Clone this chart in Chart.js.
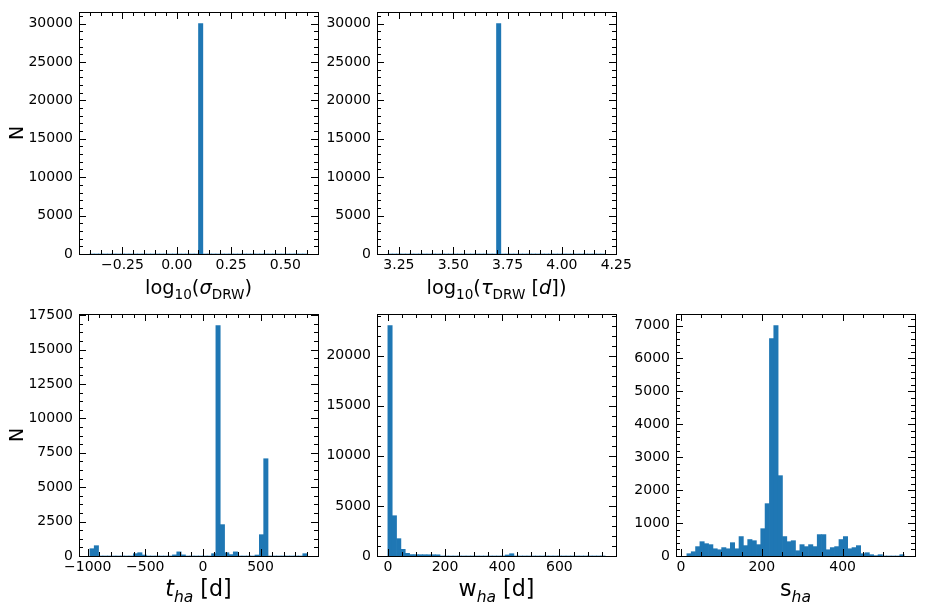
<!DOCTYPE html>
<html>
<head>
<meta charset="utf-8">
<script src="https://cdn.jsdelivr.net/npm/chart.js@4.4.0/dist/chart.umd.min.js"></script>
<style>
  html, body { margin: 0; padding: 0; background: #fff; }
  body { width: 933px; height: 608px; position: relative; overflow: hidden; }
  canvas { position: absolute; }
</style>
</head>
<body>
<canvas id="sigmaChart" width="334" height="304"></canvas>
<canvas id="tauChart" width="334" height="304"></canvas>
<canvas id="tChart" width="334" height="304"></canvas>
<canvas id="wChart" width="334" height="304"></canvas>
<canvas id="sChart" width="334" height="304"></canvas>
<script>
// histogram data (50 bins per panel)
var sigmaRange = [-0.4, 0.6];
var sigmaCounts = [0, 0, 0, 0, 0, 0, 0, 0, 0, 0, 0, 0, 0, 0, 0, 0, 0, 0, 0, 0, 0, 0, 0, 0, 0,
  30000, 0, 0, 0, 0, 0, 0, 0, 0, 0, 0, 0, 0, 0, 0, 0, 0, 0, 0, 0, 0, 0, 0, 0, 0];

var tauRange = [3.199, 4.199];
var tauCounts = [0, 0, 0, 0, 0, 0, 0, 0, 0, 0, 0, 0, 0, 0, 0, 0, 0, 0, 0, 0, 0, 0, 0, 0, 0,
  30000, 0, 0, 0, 0, 0, 0, 0, 0, 0, 0, 0, 0, 0, 0, 0, 0, 0, 0, 0, 0, 0, 0, 0, 0];

var tRange = [-981, 904];
var tCounts = [530, 750, 0, 0, 0, 0, 0, 0, 0, 0, 170, 240, 70, 0, 0, 0, 0, 0, 0, 80,
  300, 80, 0, 0, 0, 0, 0, 0, 170, 16750, 2280, 240, 100, 300, 0, 0, 0, 0, 70, 1550,
  7070, 0, 0, 0, 0, 0, 0, 0, 0, 170];

var wRange = [0, 760];
var wCounts = [23000, 4020, 1730, 665, 266, 140, 135, 130, 130, 125, 125, 120, 0, 0, 0, 0, 0, 0, 0, 0,
  0, 0, 0, 0, 0, 0, 0, 100, 230, 0, 0, 0, 0, 0, 0, 0, 0, 0, 0, 0,
  0, 0, 0, 0, 0, 0, 0, 0, 0, 3];

var sRange = [14.5, 552.3];
var sCounts = [70, 130, 285, 435, 375, 345, 220, 190, 255, 220,
  405, 220, 590, 315, 500, 465, 345, 830, 1590, 6600,
  7000, 2440, 590, 435, 465, 160, 345, 285, 345, 285,
  650, 650, 190, 255, 285, 500, 590, 220, 255, 315,
  70, 100, 40, 10, 40, 0, 0, 0, 0, 40];

// tick labels
var sigmaTicks = [-0.25, 0, 0.25, 0.5];
var tauTicks = [3.25, 3.5, 3.75, 4, 4.25];
var tTicks = [-1000, -500, 0, 500];
var wTicks = [0, 200, 400, 600];
var sTicks = [0, 200, 400];
var topCountTicks = [0, 5000, 10000, 15000, 20000, 25000, 30000];
var tCountTicks = [0, 2500, 5000, 7500, 10000, 12500, 15000, 17500];
var wCountTicks = [0, 5000, 10000, 15000, 20000];
var sCountTicks = [0, 1000, 2000, 3000, 4000, 5000, 6000, 7000];

var FONT = "'DejaVu Sans', sans-serif";
var BLUE = "#1f77b4";

function binPoints(range, counts) {
  var w = (range[1] - range[0]) / counts.length;
  return counts.map(function (c, i) {
    return { x: range[0] + w * (i + 0.5), y: c };
  });
}

function fmt(v, dec) {
  return v.toFixed(dec).replace("-", "\u2212");
}

// spines + inward major/minor ticks on all four sides
var frameTicks = {
  id: "frameTicks",
  afterDraw: function (chart) {
    var o = chart.options.plugins.frameTicks;
    var ctx = chart.ctx, a = chart.chartArea;
    var xs = chart.scales.x, ys = chart.scales.y;
    ctx.save();
    ctx.strokeStyle = "#000";
    ctx.lineWidth = 1;
    ctx.beginPath();
    function xt(v, len) {
      var p = Math.round(xs.getPixelForValue(v)) + 0.5;
      ctx.moveTo(p, a.bottom); ctx.lineTo(p, a.bottom - len);
      ctx.moveTo(p, a.top); ctx.lineTo(p, a.top + len);
    }
    function yt(v, len) {
      var p = Math.round(ys.getPixelForValue(v)) + 0.5;
      ctx.moveTo(a.left, p); ctx.lineTo(a.left + len, p);
      ctx.moveTo(a.right, p); ctx.lineTo(a.right - len, p);
    }
    var v;
    for (v = Math.ceil(xs.min / o.xMinor) * o.xMinor; v <= xs.max; v += o.xMinor) xt(v, 4);
    for (v = 0; v <= ys.max; v += o.yMinor) yt(v, 4);
    xs.ticks.forEach(function (t) { xt(t.value, 7); });
    ys.ticks.forEach(function (t) { yt(t.value, 7); });
    ctx.stroke();
    ctx.strokeRect(a.left + 0.5, a.top + 0.5, a.right - a.left, a.bottom - a.top);
    ctx.restore();
  }
};

// axis titles with mathtext-like sub/italic segments
var axisTitles = {
  id: "axisTitles",
  afterDraw: function (chart) {
    var o = chart.options.plugins.axisTitles;
    var ctx = chart.ctx, a = chart.chartArea;
    ctx.save();
    ctx.fillStyle = "#000";
    ctx.textBaseline = "alphabetic";
    ctx.textAlign = "left";
    var size = o.size;
    var parts = o.segments.map(function (s) {
      var sub = s[1].indexOf("sub") === 0;
      var italic = s[1] === "i" || s[1] === "subi";
      var fs = sub ? size * 0.7 : size;
      var font = (italic ? "italic " : "") + fs + "px " + FONT;
      ctx.font = font;
      return { t: s[0], font: font, dy: sub ? size * 0.25 : 0, w: ctx.measureText(s[0]).width };
    });
    var total = parts.reduce(function (acc, p) { return acc + p.w; }, 0);
    var x = (a.left + a.right) / 2 - total / 2;
    parts.forEach(function (p) {
      ctx.font = p.font;
      ctx.fillText(p.t, x, o.baseline + p.dy);
      x += p.w;
    });
    if (o.yLabel) {
      ctx.font = "19px " + FONT;
      ctx.translate(a.left - 56.5, (a.top + a.bottom) / 2);
      ctx.rotate(-Math.PI / 2);
      ctx.textAlign = "center";
      ctx.fillText(o.yLabel, 0, 0);
    }
    ctx.restore();
  }
};

var panels = [
  { id: "sigmaChart", left: 79, top: 12, range: sigmaRange, counts: sigmaCounts,
    xMin: -0.45, xMax: 0.65, yMax: 31500, xTicks: sigmaTicks, yTicks: topCountTicks, dec: 2,
    xMinor: 0.05, yMinor: 1000, size: 19.4, yLabel: "N",
    segments: [["log", "n"], ["10", "sub"], ["(", "n"], ["\u03c3", "i"], ["DRW", "sub"], [")", "n"]] },
  { id: "tauChart", left: 377, top: 12, range: tauRange, counts: tauCounts,
    xMin: 3.149, xMax: 4.249, yMax: 31500, xTicks: tauTicks, yTicks: topCountTicks, dec: 2,
    xMinor: 0.05, yMinor: 1000, size: 19.4, yLabel: null,
    segments: [["log", "n"], ["10", "sub"], ["(", "n"], ["\u03c4", "i"], ["DRW", "sub"], [" [", "n"], ["d", "i"], ["])", "n"]] },
  { id: "tChart", left: 79, top: 314, range: tRange, counts: tCounts,
    xMin: -1075.25, xMax: 998.25, yMax: 17590, xTicks: tTicks, yTicks: tCountTicks, dec: 0,
    xMinor: 100, yMinor: 625, size: 22.2, yLabel: "N",
    segments: [["t", "i"], ["ha", "subi"], [" [d]", "n"]] },
  { id: "wChart", left: 377, top: 314, range: wRange, counts: wCounts,
    xMin: -38, xMax: 798, yMax: 24150, xTicks: wTicks, yTicks: wCountTicks, dec: 0,
    xMinor: 50, yMinor: 1000, size: 22.2, yLabel: null,
    segments: [["w", "n"], ["ha", "subi"], [" [d]", "n"]] },
  { id: "sChart", left: 676, top: 314, range: sRange, counts: sCounts,
    xMin: -12.4, xMax: 579.2, yMax: 7350, xTicks: sTicks, yTicks: sCountTicks, dec: 0,
    xMinor: 50, yMinor: 200, size: 22.2, yLabel: null,
    segments: [["s", "n"], ["ha", "subi"]] }
];

panels.forEach(function (p) {
  var el = document.getElementById(p.id);
  el.style.left = (p.left - 75) + "px";
  el.style.top = (p.top - 10) + "px";
  new Chart(el.getContext("2d"), {
    type: "bar",
    data: {
      datasets: [{
        data: binPoints(p.range, p.counts),
        backgroundColor: BLUE,
        borderWidth: 0,
        barPercentage: 1,
        categoryPercentage: 1
      }]
    },
    options: {
      responsive: false,
      animation: false,
      devicePixelRatio: 1,
      layout: { padding: { top: 10, right: 20, left: 0, bottom: 0 } },
      plugins: {
        legend: { display: false },
        tooltip: { enabled: false },
        frameTicks: { xMinor: p.xMinor, yMinor: p.yMinor },
        axisTitles: { segments: p.segments, size: p.size, baseline: 292, yLabel: p.yLabel }
      },
      scales: {
        x: {
          type: "linear",
          min: p.xMin,
          max: p.xMax,
          offset: false,
          grid: { display: false, drawTicks: false },
          border: { display: false },
          afterBuildTicks: function (s) { s.ticks = p.xTicks.map(function (v) { return { value: v }; }); },
          afterFit: function (s) { s.height = 52; s.paddingLeft = 0; s.paddingRight = 0; },
          ticks: {
            padding: 3, color: "#000", autoSkip: false, maxRotation: 0,
            font: { family: FONT, size: 14 },
            callback: function (v) { return fmt(v, p.dec); }
          }
        },
        y: {
          min: 0,
          max: p.yMax,
          grid: { display: false, drawTicks: false },
          border: { display: false },
          afterBuildTicks: function (s) { s.ticks = p.yTicks.map(function (v) { return { value: v }; }); },
          afterFit: function (s) { s.width = 75; s.paddingTop = 0; s.paddingBottom = 0; },
          ticks: {
            padding: 6, color: "#000", autoSkip: false,
            font: { family: FONT, size: 14 },
            callback: function (v) { return fmt(v, 0); }
          }
        }
      }
    },
    plugins: [frameTicks, axisTitles]
  });
});
</script>
</body>
</html>
